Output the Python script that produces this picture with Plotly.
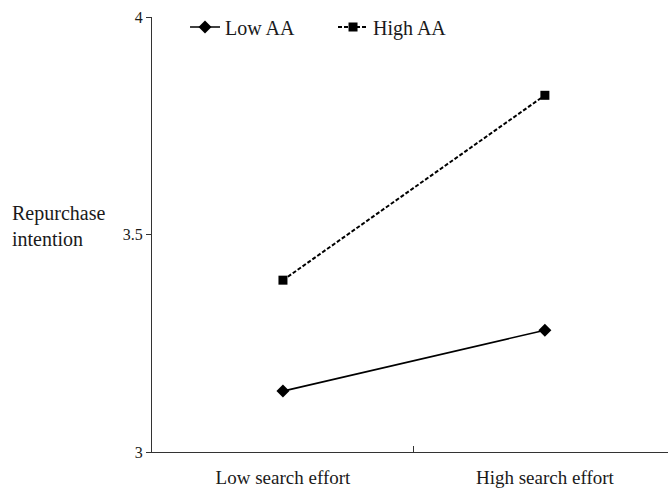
import plotly.graph_objects as go

# Interaction plot: repurchase intention by search effort and AA level
conditions = ["Low search effort", "High search effort"]
low_aa = [3.14, 3.28]
high_aa = [3.395, 3.82]
y_ticks = [3, 3.5, 4]
y_tick_text = ["3", "3.5", "4"]

FONT = "Liberation Serif, Times New Roman, serif"
INK = "#1a1a1a"

fig = go.Figure()
fig.add_trace(go.Scatter(
    x=conditions, y=low_aa, name="Low AA", mode="lines+markers",
    line=dict(color="black", width=1.6),
    marker=dict(symbol="diamond", size=10, color="black"),
))
fig.add_trace(go.Scatter(
    x=conditions, y=high_aa, name="High AA", mode="lines+markers",
    line=dict(color="black", width=2, dash="4px,2px"),
    marker=dict(symbol="square", size=9, color="black"),
))

fig.update_layout(
    width=668, height=491,
    margin=dict(l=152, r=0, t=17, b=39),
    paper_bgcolor="white", plot_bgcolor="white",
    font=dict(family=FONT, size=16, color=INK),
    showlegend=True,
    legend=dict(
        orientation="h", x=0.064, y=0.977, xanchor="left", yanchor="middle",
        font=dict(family=FONT, size=20, color=INK),
        bgcolor="rgba(0,0,0,0)", itemwidth=30, tracegroupgap=0,
        entrywidth=103, entrywidthmode="pixels",
    ),
    xaxis=dict(
        type="category", range=[-0.5, 1.47],
        showline=True, linecolor="#333", linewidth=1,
        ticks="inside", tickson="boundaries", ticklen=6, tickcolor="#333",
        showgrid=False, zeroline=False, ticklabelstandoff=8,
        tickfont=dict(family=FONT, size=19, color=INK),
    ),
    yaxis=dict(
        range=[3, 4], tickvals=y_ticks, ticktext=y_tick_text,
        showline=True, linecolor="#333", linewidth=1,
        ticks="outside", ticklen=5, tickcolor="#333",
        showgrid=False, zeroline=False,
        tickfont=dict(family=FONT, size=16, color=INK),
    ),
)

fig.add_annotation(
    text="Repurchase<br>intention", xref="paper", yref="paper",
    x=-0.275, y=0.52, xanchor="left", yanchor="middle", align="left",
    showarrow=False, font=dict(family=FONT, size=20, color=INK),
)

fig.write_html("out.html")
